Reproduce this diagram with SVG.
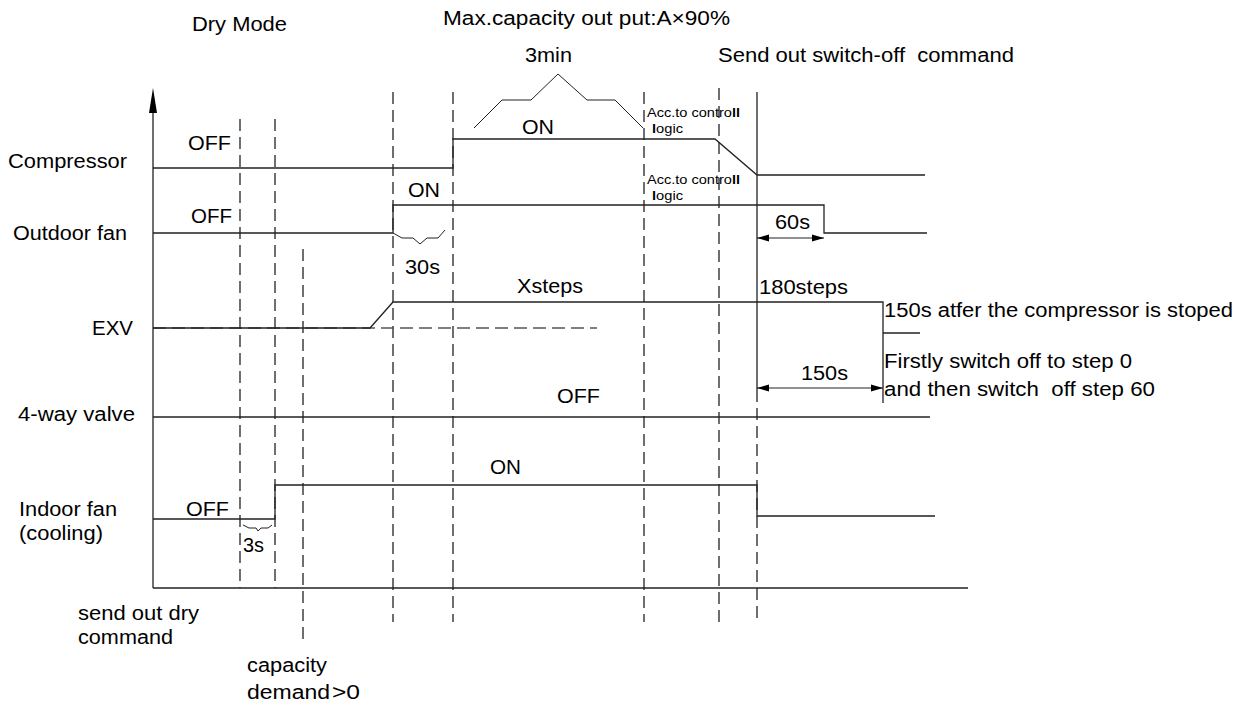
<svg xmlns="http://www.w3.org/2000/svg" width="1242" height="702" viewBox="0 0 1242 702">
<style>
text{font-family:"Liberation Sans",Arial,sans-serif;font-size:20px;fill:#000;white-space:pre}
.sm{font-size:13px}
.ln{fill:none;stroke:#222;stroke-width:1.3}
.th{fill:none;stroke:#222;stroke-width:1}
.dash{fill:none;stroke:#222;stroke-width:1.3;stroke-dasharray:12 6}
.dashg{fill:none;stroke:#555;stroke-width:1.3;stroke-dasharray:13 6}
</style>
<defs>
<marker id="ar" viewBox="0 0 12 8" refX="12" refY="4" markerWidth="12" markerHeight="8" markerUnits="userSpaceOnUse" orient="auto-start-reverse">
<path d="M0,0.5 L12,4 L0,7.5 Z" fill="#000"/>
</marker>
</defs>
<rect width="1242" height="702" fill="#fff"/>

<g id="titles">
<text x="192" y="31" textLength="95" lengthAdjust="spacingAndGlyphs">Dry Mode</text>
<text x="443" y="25" textLength="287" lengthAdjust="spacingAndGlyphs">Max.capacity out put:A×90%</text>
<text x="525" y="62" textLength="47" lengthAdjust="spacingAndGlyphs">3min</text>
<text x="718" y="62" textLength="296" lengthAdjust="spacingAndGlyphs">Send out switch-off  command</text>
</g>

<g id="axes">
<line class="ln" x1="153" y1="110" x2="153" y2="588"/>
<path d="M153,88 L149,113 L157,113 Z" fill="#000"/>
<line class="ln" x1="153" y1="588" x2="968" y2="588"/>
</g>

<g id="connectors">
<line class="dash" x1="240" y1="119" x2="240" y2="588"/>
<line class="dash" x1="275" y1="119" x2="275" y2="588"/>
<line class="dash" x1="303" y1="249" x2="303" y2="643"/>
<line class="dash" x1="393" y1="92" x2="393" y2="622"/>
<line class="dash" x1="453" y1="92" x2="453" y2="622"/>
<line class="dash" x1="644" y1="92" x2="644" y2="622"/>
<line class="dash" x1="719" y1="88" x2="719" y2="622"/>
<line class="ln" x1="757" y1="92" x2="757" y2="390"/>
<line class="dash" x1="757" y1="390" x2="757" y2="622"/>
<polyline class="th" points="474,128 502,100 531,100 558,74 587,100 615,100 643,128"/>
</g>

<g id="compressor">
<text x="8" y="168" textLength="119" lengthAdjust="spacingAndGlyphs">Compressor</text>
<text x="188" y="150" textLength="43" lengthAdjust="spacingAndGlyphs">OFF</text>
<text x="522" y="134" textLength="32" lengthAdjust="spacingAndGlyphs">ON</text>
<text class="sm" x="647" y="117" textLength="93" lengthAdjust="spacingAndGlyphs">Acc.to contro<tspan font-weight="bold">ll</tspan></text>
<text class="sm" x="652" y="133" textLength="31" lengthAdjust="spacingAndGlyphs"><tspan font-weight="bold">l</tspan>ogic</text>
<polyline class="ln" points="153,168 453,168 453,139 715,139 757,175 925,175"/>
</g>

<g id="outdoor-fan">
<text x="13" y="240" textLength="114" lengthAdjust="spacingAndGlyphs">Outdoor fan</text>
<text x="191" y="223" textLength="41" lengthAdjust="spacingAndGlyphs">OFF</text>
<text x="408" y="197" textLength="32" lengthAdjust="spacingAndGlyphs">ON</text>
<text class="sm" x="647" y="184" textLength="93" lengthAdjust="spacingAndGlyphs">Acc.to contro<tspan font-weight="bold">ll</tspan></text>
<text class="sm" x="652" y="200" textLength="31" lengthAdjust="spacingAndGlyphs"><tspan font-weight="bold">l</tspan>ogic</text>
<polyline class="ln" points="153,233 393,233 393,205 824,205 824,233 927,233"/>
<polyline class="th" points="393,233 402,238 413,238 420,244 427,238 438,238 445,230"/>
<text x="405" y="274" textLength="35" lengthAdjust="spacingAndGlyphs">30s</text>
<line class="th" x1="757" y1="238" x2="824" y2="238" marker-start="url(#ar)" marker-end="url(#ar)"/>
<text x="775" y="229" textLength="35" lengthAdjust="spacingAndGlyphs">60s</text>
</g>

<g id="exv">
<text x="92" y="335" textLength="41" lengthAdjust="spacingAndGlyphs">EXV</text>
<line class="dashg" x1="153" y1="328" x2="597" y2="328"/>
<polyline class="ln" points="153,328 370,328 393,302 883,302 883,403"/>
<line class="ln" x1="883" y1="333" x2="920" y2="333"/>
<text x="517" y="293" textLength="66" lengthAdjust="spacingAndGlyphs">Xsteps</text>
<text x="759" y="294" textLength="89" lengthAdjust="spacingAndGlyphs">180steps</text>
<text x="884" y="317" textLength="349" lengthAdjust="spacingAndGlyphs">150s atfer the compressor is stoped</text>
<text x="884" y="368" textLength="248" lengthAdjust="spacingAndGlyphs">Firstly switch off to step 0</text>
<text x="884" y="396" textLength="271" lengthAdjust="spacingAndGlyphs">and then switch  off step 60</text>
<line class="th" x1="757" y1="388" x2="883" y2="388" marker-start="url(#ar)" marker-end="url(#ar)"/>
<text x="801" y="380" textLength="47" lengthAdjust="spacingAndGlyphs">150s</text>
</g>

<g id="four-way-valve">
<text x="18" y="421" textLength="117" lengthAdjust="spacingAndGlyphs">4-way valve</text>
<text x="557" y="403" textLength="43" lengthAdjust="spacingAndGlyphs">OFF</text>
<line class="ln" x1="153" y1="417" x2="930" y2="417"/>
</g>

<g id="indoor-fan">
<text x="19" y="516" textLength="98" lengthAdjust="spacingAndGlyphs">Indoor fan</text>
<text x="19" y="540" textLength="84" lengthAdjust="spacingAndGlyphs">(cooling)</text>
<text x="186" y="516" textLength="43" lengthAdjust="spacingAndGlyphs">OFF</text>
<text x="490" y="474" textLength="31" lengthAdjust="spacingAndGlyphs">ON</text>
<polyline class="ln" points="153,519 275,519 275,485 757,485 757,516 935,516"/>
<polyline class="th" points="243,525 249,528 256,528 258,531 261,528 268,528 272,525"/>
<text x="243" y="552" textLength="21" lengthAdjust="spacingAndGlyphs">3s</text>
</g>

<g id="events">
<text x="78" y="620" textLength="121" lengthAdjust="spacingAndGlyphs">send out dry</text>
<text x="78" y="644" textLength="95" lengthAdjust="spacingAndGlyphs">command</text>
<text x="247" y="672" textLength="80" lengthAdjust="spacingAndGlyphs">capacity</text>
<text x="247" y="699" textLength="83" lengthAdjust="spacingAndGlyphs">demand</text>
<text x="332" y="699" font-family="'Liberation Serif',serif" font-size="24" textLength="28" lengthAdjust="spacingAndGlyphs">&gt;0</text>
</g>
</svg>
